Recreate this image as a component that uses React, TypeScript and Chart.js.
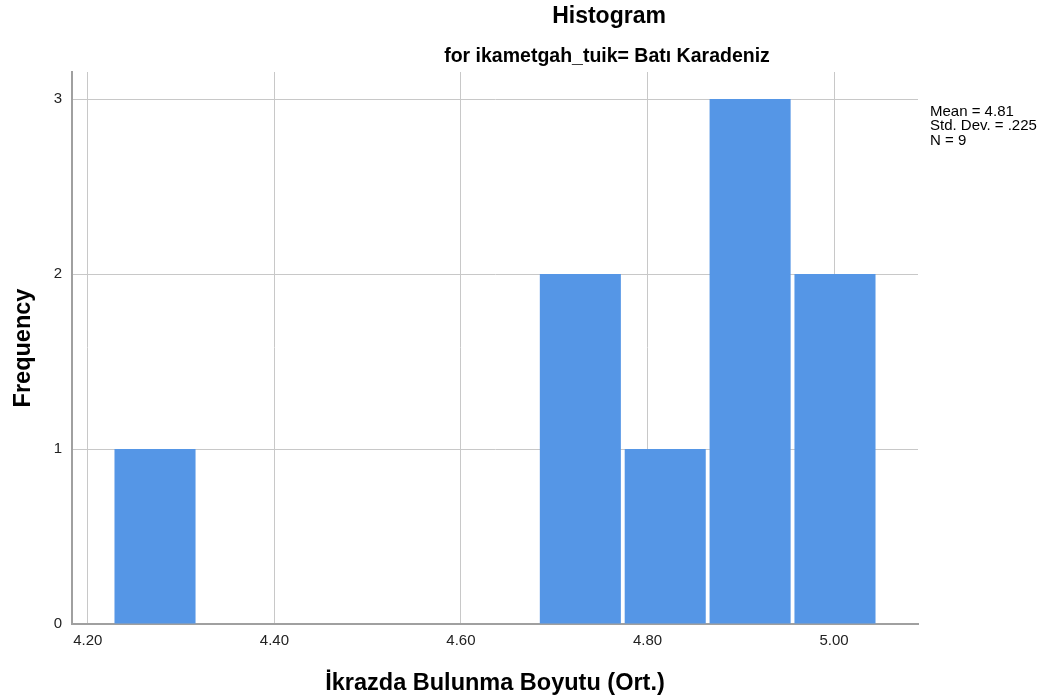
import React, { useEffect, useRef } from "react";
import { Chart, registerables } from "chart.js";

Chart.register(...registerables);

// Histogram bins (centers) and their counts
const binCenters = [4.272, 4.728, 4.819, 4.91, 5.001];
const frequencies = [1, 2, 1, 3, 2];
const xTicks = [4.2, 4.4, 4.6, 4.8, 5.0];
const yTicks = [0, 1, 2, 3];
const statsLines = ["Mean = 4.81", "Std. Dev. = .225", "N = 9"];
const titleText = "Histogram";
const subtitleText = "for ikametgah_tuik= Batı Karadeniz";
const xTitle = "İkrazda Bulunma Boyutu (Ort.)";
const yTitle = "Frequency";

const FONT = '"Liberation Sans", Arial, sans-serif';

const textPlugin = {
  id: "spssTexts",
  afterDraw(chart: any) {
    const ctx = chart.ctx;
    const a = chart.chartArea;
    ctx.save();
    ctx.fillStyle = "#000";
    ctx.textAlign = "center";
    ctx.textBaseline = "middle";
    ctx.font = `bold 23px ${FONT}`;
    ctx.fillText(titleText, 609, 17);
    ctx.font = `bold 19.5px ${FONT}`;
    ctx.fillText(subtitleText, 607, 57);
    ctx.textAlign = "left";
    ctx.textBaseline = "alphabetic";
    ctx.font = `15px ${FONT}`;
    statsLines.forEach((s, i) => ctx.fillText(s, a.right + 12, 116 + i * 14.3));
    ctx.restore();
  },
};

export default function App() {
  const ref = useRef<HTMLCanvasElement | null>(null);

  useEffect(() => {
    if (!ref.current) return;
    const gridColor = "#c8c8c8";
    const borderColor = "#a0a0a0";
    const chart = new Chart(ref.current, {
      type: "bar",
      data: {
        datasets: [
          {
            data: binCenters.map((c, i) => ({ x: c, y: frequencies[i] })),
            backgroundColor: "#5596e6",
            borderWidth: 0,
            barPercentage: 0.955,
            categoryPercentage: 1,
          },
        ],
      },
      options: {
        animation: false,
        responsive: true,
        maintainAspectRatio: false,
        layout: { padding: { top: 72, right: 136, bottom: 0, left: 0 } },
        plugins: {
          legend: { display: false },
          tooltip: { enabled: false },
          title: { display: false },
        },
        scales: {
          x: {
            type: "linear",
            offset: false,
            min: 4.183,
            max: 5.09,
            afterBuildTicks: (s: any) => {
              s.ticks = xTicks.map((v) => ({ value: v }));
            },
            afterFit: (s: any) => {
              s.height = 76;
            },
            ticks: {
              callback: (v: any) => Number(v).toFixed(2),
              font: { size: 15, family: FONT },
              color: "#222",
              padding: 8,
              autoSkip: false,
              maxRotation: 0,
            },
            grid: { color: gridColor, drawTicks: false, lineWidth: 1, offset: false },
            border: { color: borderColor, width: 2 },
            title: {
              display: true,
              text: xTitle,
              color: "#000",
              font: { size: 23.5, weight: "bold", family: FONT },
              padding: { top: 0, bottom: 2 },
            },
          },
          y: {
            type: "linear",
            min: 0,
            max: 3.155,
            afterBuildTicks: (s: any) => {
              s.ticks = yTicks.map((v) => ({ value: v }));
            },
            afterFit: (s: any) => {
              s.width = 72;
            },
            ticks: {
              callback: (v: any) => String(v),
              font: { size: 15, family: FONT },
              color: "#222",
              padding: 10,
            },
            grid: { color: gridColor, drawTicks: false, lineWidth: 1 },
            border: { color: borderColor, width: 2 },
            title: {
              display: true,
              text: yTitle,
              color: "#000",
              font: { size: 23.5, weight: "bold", family: FONT },
              padding: { top: 9, bottom: 0 },
            },
          },
        },
      },
      plugins: [textPlugin],
    });
    return () => chart.destroy();
  }, []);

  return (
    <div style={{ position: "fixed", left: 0, top: 0, width: 1054, height: 700, background: "#fff" }}>
      <canvas ref={ref} />
    </div>
  );
}
